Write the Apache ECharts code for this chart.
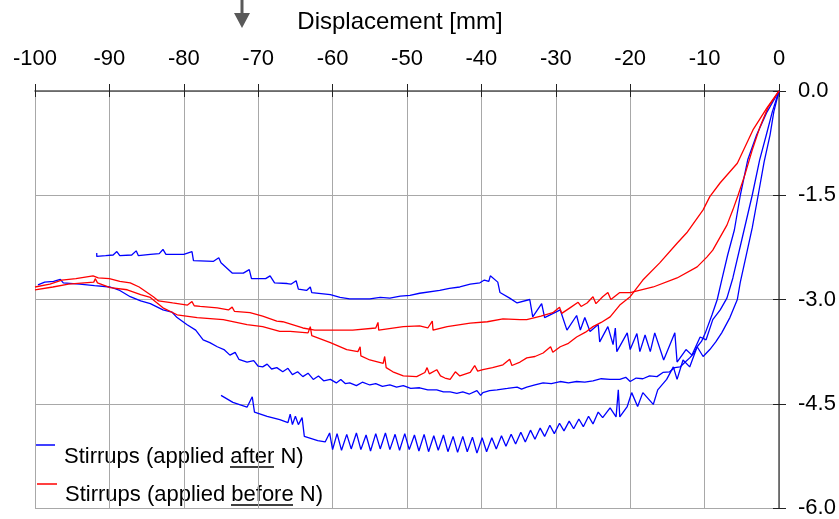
<!DOCTYPE html>
<html>
<head>
<meta charset="utf-8">
<script src="https://cdn.jsdelivr.net/npm/echarts@6/dist/echarts.min.js"></script>
<style>
  html, body { margin: 0; padding: 0; background: #fff; }
  #chart { width: 839px; height: 519px; }
</style>
</head>
<body>
<div id="chart"></div>
<script>
// stirrups applied after N (blue), three branches
var afterTop = [
  [-91.7,-2.33],[-91.7,-2.38],[-90.5,-2.37],[-89.5,-2.36],[-89.0,-2.31],[-88.6,-2.37],[-87.0,-2.36],
  [-86.4,-2.30],[-86.1,-2.37],[-84.5,-2.35],[-83.3,-2.34],[-82.8,-2.28],[-82.4,-2.35],[-80.0,-2.35],
  [-78.9,-2.31],[-78.7,-2.44],[-76.0,-2.45],[-75.3,-2.40],[-75.0,-2.47],[-73.5,-2.62],[-72.0,-2.62],
  [-71.2,-2.57],[-70.9,-2.70],[-69.0,-2.70],[-68.4,-2.66],[-67.8,-2.76],[-66.1,-2.77],[-65.6,-2.78],
  [-64.9,-2.73],[-64.6,-2.85],[-63.5,-2.87],[-63.0,-2.82],[-62.8,-2.90],[-60.3,-2.93],[-59.0,-2.97],
  [-57.7,-2.99],[-55.0,-2.99],[-53.6,-2.97],[-52.3,-2.98],[-50.9,-2.95],[-49.6,-2.94],[-48.3,-2.91],
  [-45.6,-2.87],[-44.3,-2.84],[-42.9,-2.82],[-41.5,-2.78],[-40.2,-2.76],[-39.6,-2.72],[-39.0,-2.74],
  [-38.8,-2.66],[-37.8,-2.75],[-37.5,-2.90],[-36.2,-2.98],[-35.2,-3.05],[-33.5,-3.00],[-33.1,-3.25],
  [-31.9,-3.06],[-31.5,-3.26],[-29.4,-3.15],[-28.5,-3.44],[-27.2,-3.23],[-26.7,-3.44],[-26.1,-3.26],
  [-25.4,-3.46],[-24.3,-3.36],[-24.1,-3.61],[-23.0,-3.39],[-22.3,-3.65],[-22.0,-3.41],[-21.8,-3.75],
  [-20.4,-3.48],[-20.0,-3.72],[-19.1,-3.49],[-18.7,-3.75],[-18.0,-3.51],[-17.3,-3.75],[-16.7,-3.48],
  [-15.5,-3.87],[-14.0,-3.48],[-13.7,-3.90],[-12.5,-3.72],[-11.7,-3.80],[-10.6,-3.54],[-9.8,-3.58],
  [-8.9,-3.29],[-7.9,-3.15],[-7.0,-2.98],[-6.2,-2.69],[-5.0,-2.14],[-3.6,-1.50],[-2.6,-0.99],
  [-1.7,-0.63],[-0.9,-0.30],[0,0]
];
var afterMid = [
  [-99.6,-2.79],[-98.7,-2.75],[-97.5,-2.74],[-96.6,-2.71],[-96.2,-2.76],[-94.0,-2.78],[-92.0,-2.80],
  [-89.9,-2.82],[-88.6,-2.87],[-87.2,-2.96],[-85.8,-3.02],[-84.5,-3.06],[-82.8,-3.15],[-81.6,-3.18],
  [-80.9,-3.26],[-79.6,-3.36],[-78.4,-3.44],[-77.4,-3.58],[-76.5,-3.62],[-75.5,-3.68],[-74.6,-3.72],
  [-73.8,-3.80],[-73.1,-3.76],[-72.6,-3.86],[-71.5,-3.90],[-70.6,-3.88],[-70.0,-3.96],[-69.4,-3.97],
  [-68.8,-3.93],[-68.2,-4.00],[-67.5,-3.98],[-66.7,-4.04],[-66.0,-3.99],[-65.4,-4.08],[-64.7,-4.04],
  [-64.0,-4.11],[-63.3,-4.06],[-62.6,-4.15],[-61.9,-4.10],[-61.2,-4.17],[-60.3,-4.15],[-59.5,-4.20],
  [-58.9,-4.15],[-58.3,-4.21],[-57.7,-4.20],[-56.8,-4.24],[-56.0,-4.19],[-55.0,-4.23],[-54.2,-4.21],
  [-53.3,-4.25],[-52.3,-4.23],[-51.4,-4.26],[-50.5,-4.24],[-49.5,-4.28],[-48.3,-4.27],[-47.2,-4.30],
  [-46.0,-4.30],[-45.1,-4.33],[-44.2,-4.33],[-43.3,-4.35],[-42.5,-4.33],[-41.6,-4.36],[-40.6,-4.31],
  [-40.1,-4.38],[-39.8,-4.34],[-38.9,-4.31],[-37.9,-4.30],[-36.5,-4.28],[-35.2,-4.26],[-34.6,-4.29],
  [-33.9,-4.26],[-32.8,-4.23],[-31.7,-4.20],[-30.6,-4.21],[-29.4,-4.18],[-28.3,-4.20],[-27.2,-4.18],
  [-26.1,-4.19],[-25.0,-4.17],[-23.9,-4.14],[-22.7,-4.15],[-21.4,-4.15],[-20.6,-4.12],[-20.0,-4.18],
  [-19.2,-4.13],[-18.3,-4.14],[-17.4,-4.10],[-16.4,-4.11],[-15.6,-4.05],[-14.7,-4.04],[-14.0,-3.98],
  [-13.3,-3.97],[-12.6,-3.90],[-12.0,-3.84],[-11.5,-3.78],[-11.0,-3.68],[-10.4,-3.60],[-9.9,-3.48],
  [-9.0,-3.22],[-8.3,-3.00],[-7.7,-2.72],[-6.9,-2.36],[-6.0,-2.00],[-5.2,-1.50],[-4.2,-0.99],
  [-3.0,-0.63],[-1.6,-0.30],[0,0]
];
var afterLow = [
  [-75.0,-4.38],[-73.4,-4.48],[-71.5,-4.55],[-70.8,-4.40],[-70.5,-4.62],[-68.8,-4.68],[-67.1,-4.73],
  [-66.0,-4.77],[-65.7,-4.65],[-65.4,-4.80],[-65.0,-4.68],[-64.6,-4.80],[-64.1,-4.70],[-63.8,-4.97],
  [-62.0,-5.03],[-61.0,-5.05],[-60.4,-4.92],[-60.0,-5.16],
  [-59.4,-4.93],[-58.8,-5.17],[-58.1,-4.94],[-57.5,-5.15],[-56.8,-4.92],[-56.2,-5.16],[-55.5,-4.95],
  [-54.9,-5.18],[-54.2,-4.93],[-53.6,-5.15],[-52.9,-4.92],[-52.3,-5.16],[-51.6,-4.94],[-51.0,-5.17],
  [-50.3,-4.93],[-49.7,-5.16],[-49.0,-4.95],[-48.4,-5.18],[-47.7,-4.94],[-47.1,-5.19],[-46.4,-4.96],
  [-45.8,-5.17],[-45.1,-4.95],[-44.5,-5.19],[-43.8,-4.97],[-43.2,-5.20],[-42.5,-4.97],[-41.9,-5.19],
  [-41.2,-4.98],[-40.6,-5.21],[-39.9,-4.99],[-39.3,-5.19],[-38.6,-4.99],[-38.0,-5.15],[-37.3,-4.96],
  [-36.7,-5.11],[-36.0,-4.94],[-35.4,-5.08],[-34.7,-4.91],[-34.1,-5.05],[-33.4,-4.88],[-32.8,-5.01],
  [-32.1,-4.85],[-31.5,-4.97],[-30.8,-4.81],[-30.2,-4.93],[-29.5,-4.78],[-28.9,-4.89],[-28.2,-4.75],
  [-27.6,-4.86],[-26.9,-4.72],[-26.3,-4.83],[-25.6,-4.68],[-25.0,-4.79],[-24.3,-4.62],[-23.7,-4.70],
  [-22.7,-4.56],[-21.9,-4.69],[-21.6,-4.30],[-21.4,-4.69],[-20.4,-4.54],
  [-19.8,-4.34],[-19.0,-4.54],[-18.3,-4.34],[-16.9,-4.51],[-16.3,-4.30],[-15.1,-4.15],[-14.2,-3.97],
  [-13.7,-4.15],[-12.9,-3.87],[-12.0,-3.97],[-11.0,-3.68],[-10.2,-3.82],[-9.3,-3.72],[-8.5,-3.61],
  [-7.7,-3.48],[-6.6,-3.26],[-5.6,-3.00],[-5.2,-2.75],[-4.4,-2.36],[-3.6,-1.97],[-2.8,-1.50],
  [-2.0,-1.02],[-1.2,-0.63],[-0.7,-0.30],[0,0]
];
// stirrups applied before N (red), two branches
var beforeUpper = [
  [-100,-2.82],[-98.0,-2.78],[-96.4,-2.72],[-94.5,-2.70],[-92.2,-2.66],[-91.5,-2.69],[-90.0,-2.70],
  [-88.6,-2.74],[-87.2,-2.76],[-86.0,-2.82],[-84.1,-2.96],[-83.4,-3.02],[-81.5,-3.05],[-79.5,-3.08],
  [-78.9,-3.03],[-78.6,-3.09],[-77.8,-3.10],[-75.5,-3.12],[-74.0,-3.15],[-73.5,-3.11],[-73.2,-3.17],
  [-71.1,-3.19],[-69.4,-3.24],[-67.5,-3.31],[-66.7,-3.32],[-64.0,-3.41],[-62.4,-3.44],[-60.3,-3.44],
  [-57.3,-3.44],[-54.2,-3.41],[-53.9,-3.33],[-53.8,-3.44],[-50.5,-3.39],[-48.3,-3.38],[-47.2,-3.41],
  [-46.6,-3.31],[-46.5,-3.44],[-44.6,-3.39],[-41.5,-3.34],[-39.2,-3.32],[-37.1,-3.28],[-34.8,-3.29],
  [-33.9,-3.29],[-32.0,-3.24],[-30.4,-3.19],[-29.5,-3.11],[-29.2,-3.20],[-28.1,-3.12],[-27.0,-3.04],
  [-26.6,-3.10],[-25.8,-3.05],[-25.0,-2.96],[-24.6,-3.06],[-23.7,-2.96],[-23.0,-2.90],[-22.6,-3.00],
  [-21.4,-2.90],[-20.0,-2.90],[-16.9,-2.82],[-13.7,-2.69],[-11.0,-2.53],[-9.7,-2.39],[-8.9,-2.29],
  [-7.0,-1.93],[-6.2,-1.71],[-5.5,-1.50],[-4.6,-1.21],[-3.6,-0.85],[-2.6,-0.53],[-1.5,-0.24],[0,0]
];
var beforeLower = [
  [-100,-2.86],[-97.6,-2.82],[-95.5,-2.78],[-92.1,-2.75],[-91.9,-2.70],[-91.6,-2.76],[-89.9,-2.83],
  [-87.6,-2.86],[-85.8,-2.93],[-84.5,-2.97],[-82.8,-3.12],[-80.9,-3.22],[-78.2,-3.26],[-74.7,-3.29],
  [-71.5,-3.36],[-69.4,-3.39],[-67.1,-3.46],[-65.7,-3.46],[-63.3,-3.48],[-63.0,-3.39],[-62.8,-3.52],
  [-60.3,-3.62],[-58.1,-3.72],[-56.6,-3.75],[-56.3,-3.68],[-56.2,-3.81],[-55.0,-3.87],[-53.2,-3.92],
  [-53.0,-3.82],[-52.8,-3.98],[-51.9,-4.04],[-50.5,-4.10],[-48.7,-4.11],[-47.6,-4.05],[-47.3,-3.98],
  [-47.0,-4.07],[-46.0,-4.01],[-45.5,-4.10],[-44.9,-4.13],[-44.2,-4.15],[-43.5,-4.04],[-42.9,-4.10],
  [-41.5,-4.05],[-40.9,-3.95],[-40.5,-4.03],[-39.8,-4.01],[-38.5,-3.98],[-37.1,-3.94],[-36.2,-3.86],
  [-35.9,-3.95],[-34.8,-3.90],[-33.9,-3.84],[-32.8,-3.82],[-31.7,-3.77],[-30.7,-3.68],[-30.4,-3.76],
  [-29.4,-3.68],[-28.3,-3.63],[-27.2,-3.54],[-26.0,-3.47],[-25.0,-3.39],[-23.9,-3.33],[-22.7,-3.25],
  [-21.4,-3.08],[-20.0,-2.96],[-18.3,-2.72],[-16.0,-2.47],[-13.7,-2.19],[-12.4,-2.04],[-10.2,-1.71],
  [-9.3,-1.52],[-7.9,-1.32],[-5.6,-1.04],[-3.5,-0.56],[-1.6,-0.24],[0,0]
];

var blue = '#0000ff';
var red = '#ff0000';
var font = '"Liberation Sans", Arial, sans-serif';

function lineSeries(data, color) {
  return {
    type: 'line',
    data: data,
    showSymbol: false,
    lineStyle: { color: color, width: 1.3 },
    xAxisIndex: 0,
    yAxisIndex: 0,
    animation: false
  };
}

var chart = echarts.init(document.getElementById('chart'));
chart.setOption({
  backgroundColor: '#fff',
  animation: false,
  grid: { left: 35, right: 60, top: 91, bottom: 11, outerBoundsMode: 'none', containLabel: false },
  xAxis: [{
    type: 'value', position: 'top', min: -100, max: 0, interval: 10,
    name: 'Displacement [mm]', nameLocation: 'middle', nameGap: 57,
    nameTextStyle: { fontFamily: font, fontSize: 24, color: '#000', padding: [0, 14, 0, 0] },
    axisLine: { lineStyle: { color: '#555', width: 1.5 } },
    axisTick: { inside: false, length: 7, lineStyle: { color: '#222' } },
    axisLabel: { fontFamily: font, fontSize: 22, color: '#000', margin: 21 },
    splitLine: { lineStyle: { color: '#a8a8a8', width: 1 } }
  }, {
    type: 'value', position: 'top', min: -100, max: 0, interval: 10,
    axisLine: { show: false },
    axisTick: { inside: true, length: 6, lineStyle: { color: '#222' } },
    axisLabel: { show: false },
    splitLine: { show: false }
  }],
  yAxis: [{
    type: 'value', position: 'right', min: -6, max: 0, interval: 1.5,
    axisLine: { show: true, lineStyle: { color: '#555', width: 1.5 } },
    axisTick: { show: true, inside: false, length: 7, lineStyle: { color: '#222' } },
    axisLabel: {
      fontFamily: font, fontSize: 22, color: '#000', margin: 19,
      formatter: function (v) { return v.toFixed(1); }
    },
    splitLine: { lineStyle: { color: '#a8a8a8', width: 1 } }
  }, {
    type: 'value', position: 'right', min: -6, max: 0, interval: 1.5,
    axisLine: { show: false },
    axisTick: { show: true, inside: true, length: 6, lineStyle: { color: '#222' } },
    axisLabel: { show: false },
    splitLine: { show: false }
  }],
  series: [
    lineSeries(afterTop, blue),
    lineSeries(afterMid, blue),
    lineSeries(afterLow, blue),
    lineSeries(beforeUpper, red),
    lineSeries(beforeLower, red)
  ],
  graphic: [
    // arrow at the top
    { type: 'rect', shape: { x: 240.5, y: 0, width: 3, height: 14 }, style: { fill: '#595959' } },
    { type: 'polygon', shape: { points: [[234, 13], [250, 13], [242, 28]] }, style: { fill: '#595959' } },
    // legend
    { type: 'line', shape: { x1: 36, y1: 445, x2: 55, y2: 445 }, style: { stroke: blue, lineWidth: 1.5 } },
    { type: 'text', left: 64, top: 446, style: { text: 'Stirrups (applied after N)', font: '22px ' + font, fill: '#000' } },
    { type: 'line', shape: { x1: 230, y1: 467, x2: 274, y2: 467 }, style: { stroke: '#000', lineWidth: 1.5 } },
    { type: 'line', shape: { x1: 37, y1: 484, x2: 57, y2: 484 }, style: { stroke: red, lineWidth: 1.5 } },
    { type: 'text', left: 65, top: 484, style: { text: 'Stirrups (applied before N)', font: '22px ' + font, fill: '#000' } },
    { type: 'line', shape: { x1: 231, y1: 505, x2: 293, y2: 505 }, style: { stroke: '#000', lineWidth: 1.5 } }
  ]
});
</script>
</body>
</html>
